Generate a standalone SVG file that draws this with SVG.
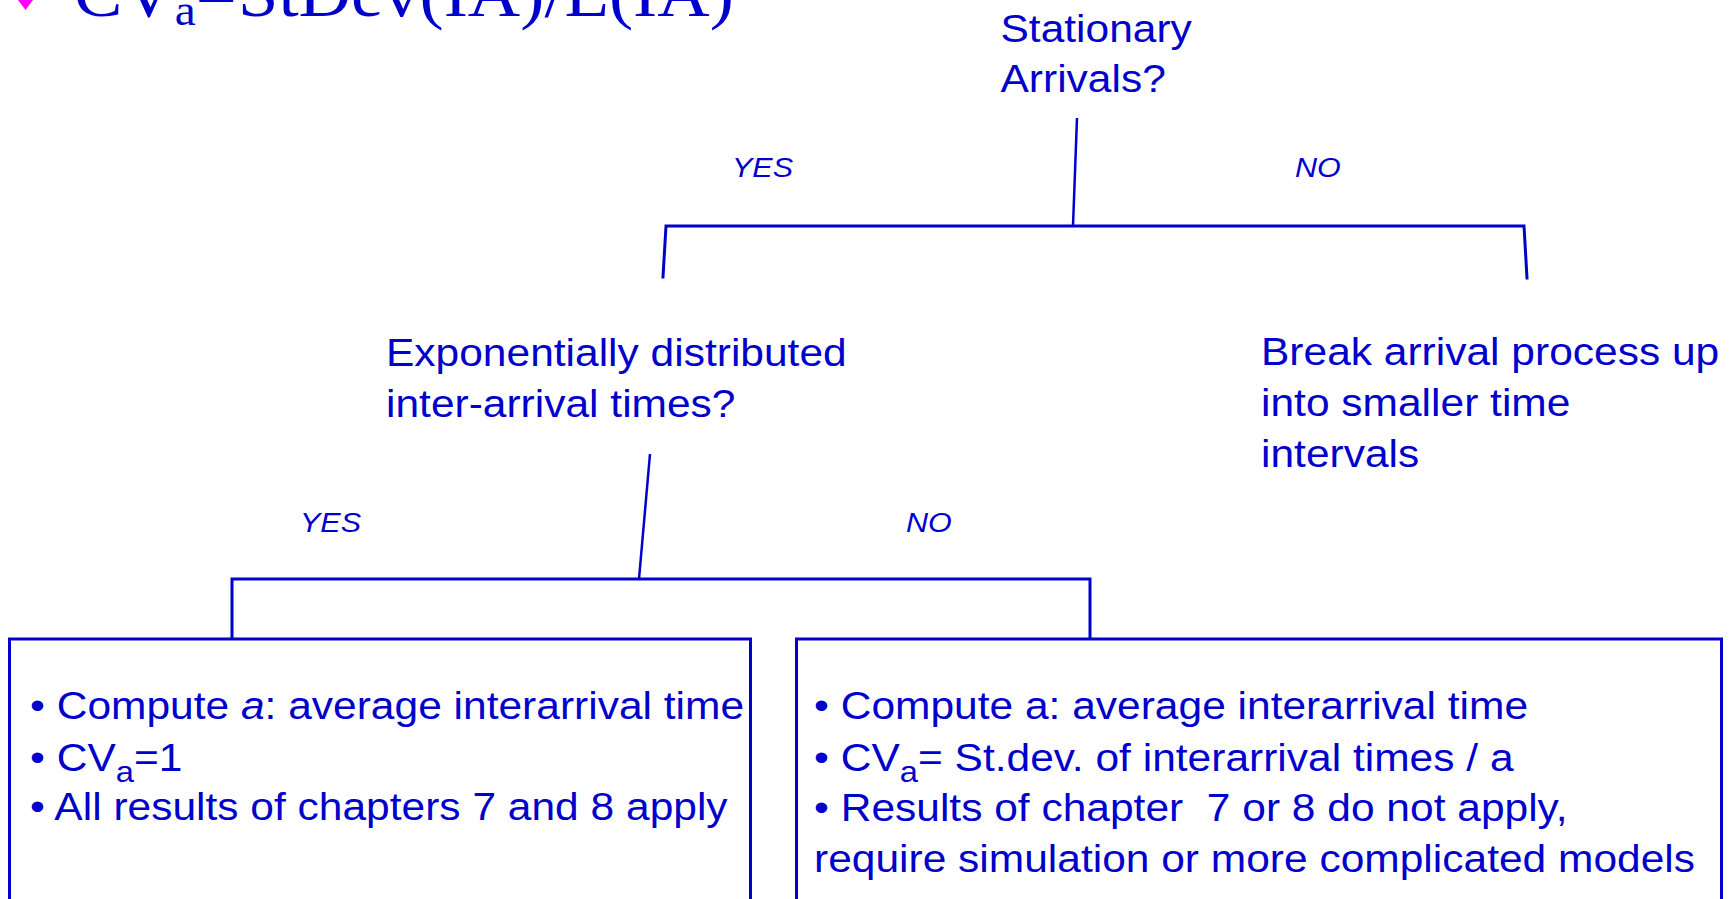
<svg xmlns="http://www.w3.org/2000/svg" width="1735" height="899" viewBox="0 0 1735 899">
<style>
  .t { font-family: "Liberation Sans", Arial, sans-serif; font-size: 39px; fill: #0000CC; }
  .lbl { font-family: "Liberation Sans", Arial, sans-serif; font-size: 28px; font-style: italic; fill: #0000CC; }
  .title { font-family: "Liberation Serif", "Times New Roman", serif; font-size: 66.6px; fill: #0000CC; }
  .ln { stroke: #0000CC; stroke-width: 3; fill: none; stroke-linecap: square; }
  .sl { stroke: #0000CC; stroke-width: 2.5; fill: none; }
  .box { stroke: #0000CC; stroke-width: 3; fill: #FFFFFF; }
</style>
<rect x="0" y="0" width="1735" height="899" fill="#FFFFFF"/>

<g id="title">
  <polygon points="25.5,-10 33,0 25.5,10 18,0" fill="#FF00FF"/>
  <text class="title" transform="translate(74,16) scale(1.09,1)">CV<tspan font-size="43.4" dy="9">a</tspan><tspan dy="-9">=</tspan><tspan x="150.5">StDev(IA)/E(IA)</tspan></text>
</g>

<g id="connectors">
  <line class="sl" x1="1077" y1="118" x2="1073" y2="226"/>
  <polyline class="ln" points="663,277 666,226 1524,226 1527,278"/>
  <line class="sl" x1="650" y1="454" x2="639" y2="579"/>
  <polyline class="ln" points="232,638 232,579 1090,579 1090,638"/>
</g>

<g id="node-stationary">
  <text class="t" transform="translate(1000.5,42) scale(1.09,1)">Stationary</text>
  <text class="t" transform="translate(1000.5,92) scale(1.09,1)">Arrivals?</text>
</g>

<g id="label-yes-1"><text class="lbl" transform="translate(732,177) scale(1.09,1)">YES</text></g>
<g id="label-no-1"><text class="lbl" transform="translate(1295,177) scale(1.09,1)">NO</text></g>

<g id="node-exponential">
  <text class="t" transform="translate(386,366) scale(1.09,1)">Exponentially distributed</text>
  <text class="t" transform="translate(386,417) scale(1.09,1)">inter-arrival times?</text>
</g>

<g id="node-break">
  <text class="t" transform="translate(1261,365) scale(1.09,1)">Break arrival process up</text>
  <text class="t" transform="translate(1261,416) scale(1.09,1)">into smaller time</text>
  <text class="t" transform="translate(1261,467) scale(1.09,1)">intervals</text>
</g>

<g id="label-yes-2"><text class="lbl" transform="translate(300,532) scale(1.09,1)">YES</text></g>
<g id="label-no-2"><text class="lbl" transform="translate(906,532) scale(1.09,1)">NO</text></g>

<g id="node-left-box">
  <rect class="box" x="9.5" y="639" width="741" height="300"/>
  <text class="t" transform="translate(30,719) scale(1.09,1)">• Compute <tspan font-style="italic">a</tspan>: average interarrival time</text>
  <text class="t" transform="translate(30,771) scale(1.09,1)">• CV<tspan font-size="30" dy="11">a</tspan><tspan dy="-11">=1</tspan></text>
  <text class="t" transform="translate(30,820) scale(1.09,1)">• All results of chapters 7 and 8 apply</text>
</g>

<g id="node-right-box">
  <rect class="box" x="796.5" y="639" width="925" height="300"/>
  <text class="t" transform="translate(814,719) scale(1.09,1)">• Compute a: average interarrival time</text>
  <text class="t" transform="translate(814,771) scale(1.09,1)">• CV<tspan font-size="30" dy="11">a</tspan><tspan dy="-11">= St.dev. of interarrival times / a</tspan></text>
  <text class="t" transform="translate(814,821) scale(1.09,1)" style="white-space:pre">• Results of chapter  7 or 8 do not apply,</text>
  <text class="t" transform="translate(814,872) scale(1.09,1)">require simulation or more complicated models</text>
</g>
</svg>
